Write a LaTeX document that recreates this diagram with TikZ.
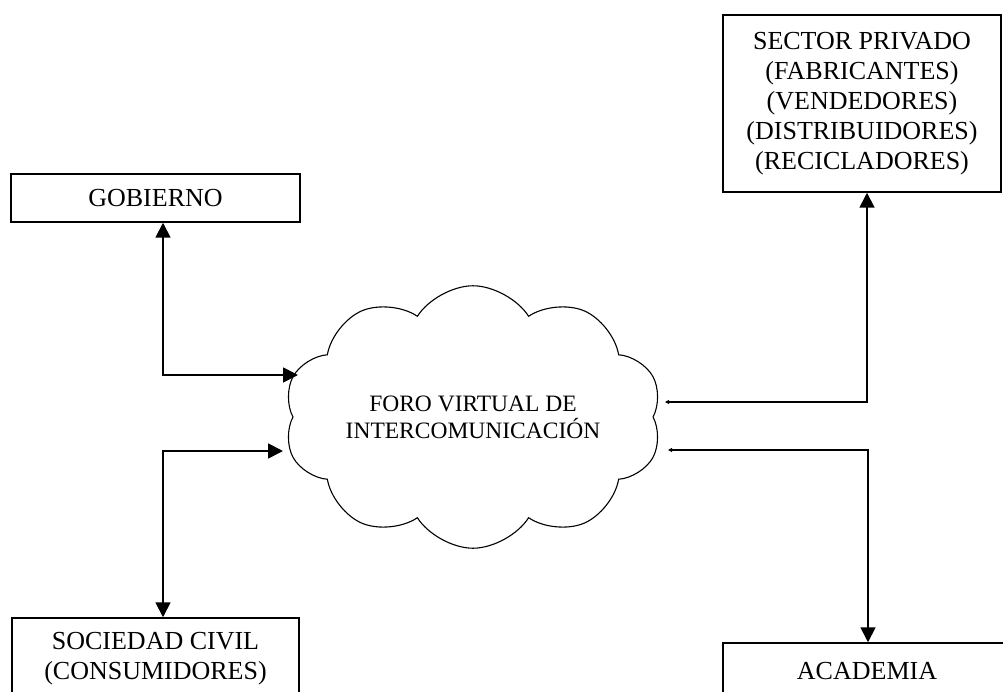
\documentclass[tikz,border=0pt]{standalone}
\usepackage{fontspec}
\setmainfont{Liberation Serif}
\usetikzlibrary{arrows.meta,shapes.symbols}
\begin{document}
\begin{tikzpicture}[x=1pt,y=-1pt,
  box/.style={draw, line width=1.5pt, align=center, inner sep=0pt,
    font=\fontsize{26}{30}\selectfont},
  link/.style={line width=1.8pt},
  bigtip/.tip={Triangle[length=15pt,width=15pt]},
  smalltip/.tip={Triangle[length=4pt,width=4pt]}]
\useasboundingbox (0,0) rectangle (1003,692);

% actors
\node[box, minimum width=289pt, minimum height=48pt] (gob) at (155.5,198) {GOBIERNO};
\node[box, minimum width=278pt, minimum height=177pt] (priv) at (862,103.5)
  {SECTOR PRIVADO\\(FABRICANTES)\\(VENDEDORES)\\(DISTRIBUIDORES)\\(RECICLADORES)};
\node[box, minimum width=287pt, minimum height=82pt] (soc) at (155.5,659)
  {SOCIEDAD CIVIL\\(CONSUMIDORES)};
\node[box, minimum width=288pt, minimum height=57pt] (acad) at (867,671.5) {ACADEMIA};

% central forum
\node[cloud, draw, line width=1.1pt, cloud puffs=10, cloud puff arc=115, aspect=1.7,
  minimum width=378pt, minimum height=240pt, inner sep=0pt, align=center,
  font=\fontsize{23.5}{27}\selectfont] (forum) at (473,417)
  {FORO VIRTUAL DE\\INTERCOMUNICACIÓN};

% connector ends on the cloud
\coordinate (gin) at (298,375);
\coordinate (sin) at (283,451);
\coordinate (pout) at (665,402);
\coordinate (aout) at (668,450);

% connectors
\draw[link, bigtip-bigtip] ([xshift=7.5pt]gob.south) |- (gin);
\draw[link, bigtip-bigtip] ([xshift=7.5pt]soc.north) |- (sin);
\draw[link, smalltip-bigtip] (pout) -| ([xshift=5pt]priv.south);
\draw[link, smalltip-bigtip] (aout) -| ([xshift=1pt]acad.north);
\end{tikzpicture}
\end{document}
